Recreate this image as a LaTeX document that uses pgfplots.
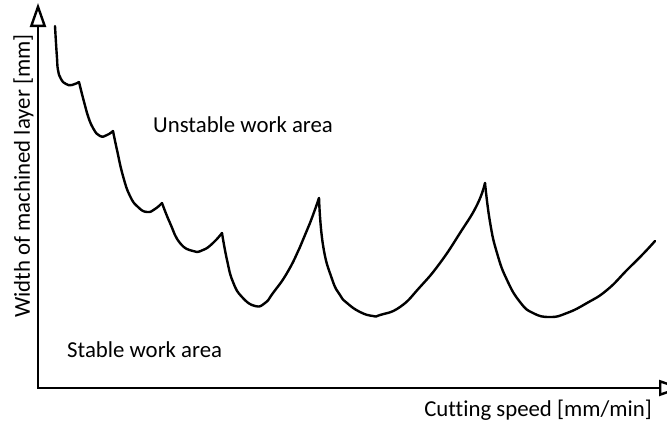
\documentclass[border=0pt]{standalone}
\usepackage{pgfplots}
\pgfplotsset{compat=1.18}
\usetikzlibrary{arrows.meta}
\usepackage{fontspec}
\setmainfont[Ligatures=NoCommon]{Carlito}
\begin{document}
\begin{tikzpicture}[font=\fontsize{22.8bp}{27bp}\selectfont]
\begin{axis}[x=1bp, y=1bp, xmin=0, xmax=629, ymin=0, ymax=383,
  hide axis, clip=false]
% axes
\draw[line width=2.4bp, line join=miter, {Triangle[open,length=24bp,width=16bp]}-{Triangle[open,length=24bp,width=16bp]}]
  (axis cs:0,385) -- (axis cs:0,0) -- (axis cs:645,0);
% stability lobes
\pgfplotsset{lobe/.style={black, line width=2.4bp, smooth, tension=0.85, line join=round, line cap=round}}
\addplot[lobe] coordinates {(17,362) (18,345) (19,330) (20,318) (23,309) (28,304) (34,303) (41,306)};
\addplot[lobe] coordinates {(41,306) (45,290) (49,275) (55,260) (62,252) (69,253) (75,257)};
\addplot[lobe] coordinates {(75,257) (79,238) (85,212) (92,192) (100,181) (109,176) (117,179) (124,185)};
\addplot[lobe] coordinates {(124,185) (132,165) (142,145) (155,137) (165,138) (175,145) (184,155)};
\addplot[lobe] coordinates {(184,155) (189,128) (195,106) (204,91) (217,82) (227,85) (235,95) (249,115) (262,141) (272,165) (281,190)};
\addplot[lobe] coordinates {(281,190) (285,143) (294,109) (302,93) (309,85) (322,76) (335,72) (342,73) (362,81) (382,101) (402,125) (422,155) (439,183) (447,205)};
\addplot[lobe] coordinates {(447,205) (452,166) (459,135) (469,108) (482,86) (495,75) (512,71) (529,75) (549,85) (569,98) (589,118) (605,134) (617,147)};
% labels
\node[anchor=base west, inner sep=0pt] at (axis cs:115,256) {Unstable work area};
\node[anchor=base west, inner sep=0pt] at (axis cs:29,31) {Stable work area};
\node[anchor=base east, inner sep=0pt] at (axis cs:614,-28) {Cutting speed [mm/min]};
\node[anchor=base west, rotate=90, inner sep=0pt] at (axis cs:-8,70) {Width of machined layer [mm]};
\coordinate (bl) at (axis cs:-38,-35);
\coordinate (tr) at (axis cs:629,388);
\end{axis}
\pgfresetboundingbox
\useasboundingbox (bl) rectangle (tr);
\end{tikzpicture}
\end{document}
